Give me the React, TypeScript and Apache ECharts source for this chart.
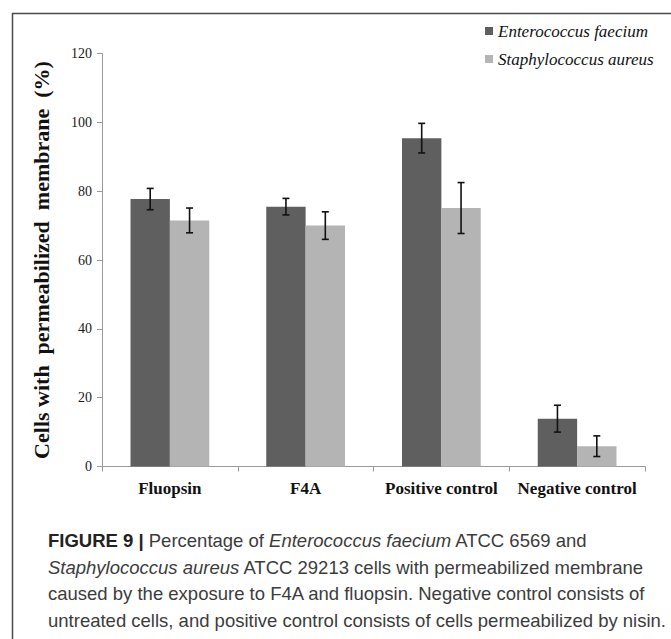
import React, { useEffect, useRef } from "react";
import * as echarts from "echarts";

const categories = ["Fluopsin", "F4A", "Positive control", "Negative control"];
const seriesNames = ["Enterococcus faecium", "Staphylococcus aureus"];
const faecium = [77.7, 75.5, 95.4, 13.9];
const faeciumErr = [3.1, 2.4, 4.3, 3.9];
const aureus = [71.5, 70.0, 75.1, 5.9];
const aureusErr = [3.6, 4.0, 7.4, 3.0];
const yTicks = { min: 0, max: 120, interval: 20 };

const captionLines = [
  "{b|FIGURE 9 |}{n| Percentage of }{i|Enterococcus faecium}{n| ATCC 6569 and}",
  "{i|Staphylococcus aureus}{n| ATCC 29213 cells with permeabilized membrane}",
  "{n|caused by the exposure to F4A and fluopsin. Negative control consists of}",
  "{n|untreated cells, and positive control consists of cells permeabilized by nisin.}",
];

const GAP = 0.42;

function errorSeries(values: number[], errs: number[], side: number) {
  return {
    type: "custom",
    silent: true,
    z: 10,
    data: values.map((v, i) => [i, v - errs[i], v + errs[i]]),
    encode: { x: 0, y: [1, 2] },
    renderItem: (params: any, api: any) => {
      const idx = api.value(0);
      const lo = api.coord([idx, api.value(1)]);
      const hi = api.coord([idx, api.value(2)]);
      const catW = api.size([1, 0])[0];
      const x = lo[0] + side * (catW * (1 - GAP)) / 4;
      const cap = 3.5;
      const st = { stroke: "#111", lineWidth: 1.6 };
      return {
        type: "group",
        children: [
          { type: "line", shape: { x1: x, y1: lo[1], x2: x, y2: hi[1] }, style: st },
          { type: "line", shape: { x1: x - cap, y1: lo[1], x2: x + cap, y2: lo[1] }, style: st },
          { type: "line", shape: { x1: x - cap, y1: hi[1], x2: x + cap, y2: hi[1] }, style: st },
        ],
      };
    },
  };
}

export default function App() {
  const ref = useRef<HTMLDivElement>(null);
  useEffect(() => {
    if (!ref.current) return;
    const chart = echarts.init(ref.current, null, { renderer: "svg" });
    const serif = "Liberation Serif";
    const sans = "Liberation Sans";
    chart.setOption({
      animation: false,
      backgroundColor: "#ffffff",
      grid: { left: 102, right: 26, top: 53.5, bottom: 172.5, containLabel: false },
      legend: {
        data: seriesNames,
        orient: "vertical",
        left: 480,
        top: 17,
        itemWidth: 8,
        itemHeight: 8,
        itemGap: 10,
        icon: "rect",
        textStyle: { fontFamily: serif, fontStyle: "italic", fontSize: 17, lineHeight: 18, color: "#111" },
      },
      xAxis: {
        type: "category",
        data: categories,
        axisLine: { lineStyle: { color: "#9a9a9a", width: 1 } },
        axisTick: { show: true, length: 5, lineStyle: { color: "#9a9a9a" } },
        axisLabel: { interval: 0, fontFamily: serif, fontWeight: "bold", fontSize: 17, color: "#111", margin: 13 },
      },
      yAxis: {
        type: "value",
        min: yTicks.min,
        max: yTicks.max,
        interval: yTicks.interval,
        name: "Cells with  permeabilized  membrane  (%)",
        nameLocation: "middle",
        nameGap: 50,
        nameRotate: 90,
        nameTextStyle: { fontFamily: serif, fontWeight: "bold", fontSize: 22, color: "#111" },
        axisLine: { show: true, lineStyle: { color: "#9a9a9a", width: 1 } },
        axisTick: { show: true, length: 5, lineStyle: { color: "#9a9a9a" } },
        splitLine: { show: false },
        axisLabel: { fontFamily: serif, fontSize: 14, color: "#1a1a1a", margin: 10 },
      },
      series: [
        {
          name: seriesNames[0],
          type: "bar",
          data: faecium,
          barGap: "0%",
          barCategoryGap: GAP * 100 + "%",
          itemStyle: { color: "#5f5f5f" },
        },
        {
          name: seriesNames[1],
          type: "bar",
          data: aureus,
          barGap: "0%",
          barCategoryGap: GAP * 100 + "%",
          itemStyle: { color: "#b4b4b4" },
        },
        errorSeries(faecium, faeciumErr, -1),
        errorSeries(aureus, aureusErr, 1),
      ],
      graphic: [
        { type: "line", shape: { x1: 12, y1: 13.5, x2: 671, y2: 13.5 }, style: { stroke: "#4a4a4a", lineWidth: 1.5 } },
        { type: "line", shape: { x1: 12.5, y1: 13, x2: 12.5, y2: 639 }, style: { stroke: "#4a4a4a", lineWidth: 1.5 } },
        ...captionLines.map((t, i) => ({
          type: "text",
          left: 48,
          top: 531 + i * 26.7,
          style: {
            text: t,
            rich: {
              b: { fontFamily: sans, fontWeight: "bold", fontSize: 18.5, fill: "#222" },
              n: { fontFamily: sans, fontSize: 18.5, fill: "#3c3c3c" },
              i: { fontFamily: sans, fontStyle: "italic", fontSize: 18.5, fill: "#3c3c3c" },
            },
          },
        })),
      ],
    });
    return () => chart.dispose();
  }, []);
  return <div ref={ref} style={{ position: "fixed", left: 0, top: 0, width: 671, height: 639 }} />;
}
